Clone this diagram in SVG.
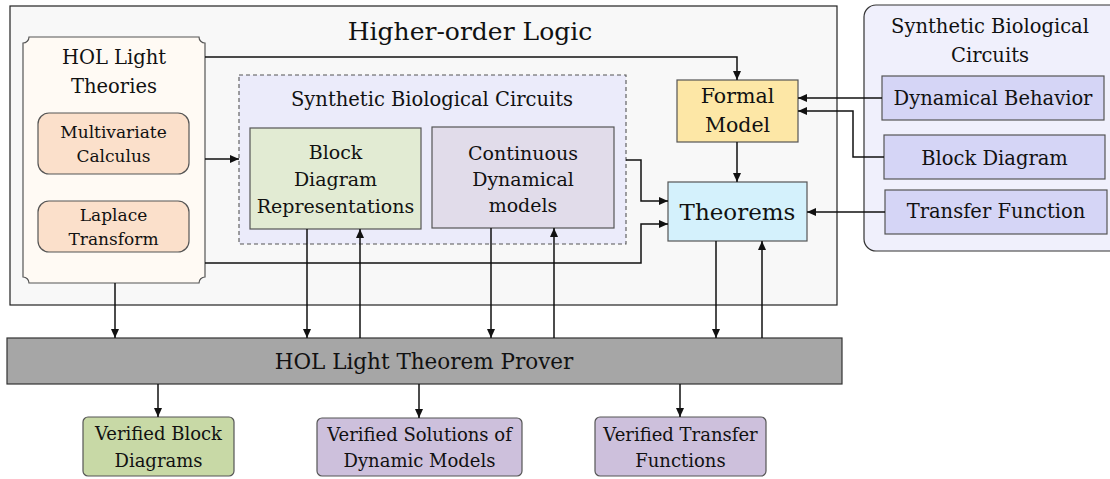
<svg xmlns="http://www.w3.org/2000/svg" width="1110" height="479" viewBox="0 0 1110 479">
<style>
text{font-family:"DejaVu Serif","Liberation Serif",serif;fill:#111;text-anchor:middle}
.box{stroke:#555;stroke-width:1.2}
.conn{fill:none;stroke:#111;stroke-width:1.5}
</style>
<defs>
<marker id="ah" markerUnits="userSpaceOnUse" markerWidth="10" markerHeight="8" refX="9" refY="4" orient="auto">
<path d="M0,0 L9,4 L0,8 Z" fill="#111"/>
</marker>
</defs>
<rect width="1110" height="479" fill="#fff"/>
<g id="hol-logic">
<rect x="10" y="6" width="827" height="299" fill="#f8f8f8" stroke="#222" stroke-width="1.2"/>
<text x="470" y="40" font-size="25">Higher-order Logic</text>
</g>
<g id="sbc-right">
<rect x="864" y="5" width="270" height="246" rx="12" fill="#f0f0fc" stroke="#333" stroke-width="1.2"/>
<text x="990" y="33" font-size="19.5">Synthetic Biological</text>
<text x="990" y="62" font-size="19.5">Circuits</text>
</g>
<g id="hol-theories">
<path d="M29,37 H199 A6,6 0 0 0 205,43 V277 A6,6 0 0 0 199,283 H29 A6,6 0 0 0 23,277 V43 A6,6 0 0 0 29,37 Z" fill="#fffaf4" class="box"/>
<text x="114" y="64" font-size="19.5">HOL Light</text>
<text x="114" y="93" font-size="19.5">Theories</text>
</g>
<g id="multivariate">
<rect x="38" y="113" width="151" height="61" rx="11" fill="#fbe0cb" class="box"/>
<text x="113.5" y="138" font-size="17">Multivariate</text>
<text x="113.5" y="162" font-size="17">Calculus</text>
</g>
<g id="laplace">
<rect x="38" y="201" width="151" height="51" rx="11" fill="#fbe0cb" class="box"/>
<text x="113.5" y="221" font-size="17">Laplace</text>
<text x="113.5" y="245" font-size="17">Transform</text>
</g>
<g id="sbc-inner">
<rect x="239" y="75" width="387" height="169" fill="#ebebfa" stroke="#555" stroke-width="1.1" stroke-dasharray="4,3"/>
<text x="432" y="106" font-size="19.5">Synthetic Biological Circuits</text>
</g>
<g id="block-rep">
<rect x="250" y="128" width="171" height="101" fill="#e2ebd3" class="box"/>
<text x="335.5" y="159" font-size="19">Block</text>
<text x="335.5" y="186" font-size="19">Diagram</text>
<text x="335.5" y="213" font-size="19">Representations</text>
</g>
<g id="continuous">
<rect x="432" y="127" width="182" height="101" fill="#e1dcea" class="box"/>
<text x="523" y="160" font-size="19">Continuous</text>
<text x="523" y="186" font-size="19">Dynamical</text>
<text x="523" y="212" font-size="19">models</text>
</g>
<g id="formal-model">
<rect x="677" y="80" width="121" height="62" fill="#fde7a6" class="box"/>
<text x="737.5" y="103" font-size="20.5">Formal</text>
<text x="737.5" y="132" font-size="20.5">Model</text>
</g>
<g id="theorems">
<rect x="668" y="182" width="139" height="59" fill="#d4f1fc" class="box"/>
<text x="737.5" y="220" font-size="23">Theorems</text>
</g>
<g id="dyn-behavior">
<rect x="882" y="76" width="222" height="44" fill="#d5d5f6" class="box"/>
<text x="993" y="105" font-size="19.5">Dynamical Behavior</text>
</g>
<g id="block-diagram">
<rect x="884" y="135" width="221" height="44" fill="#d5d5f6" class="box"/>
<text x="994.5" y="165" font-size="19.5">Block Diagram</text>
</g>
<g id="transfer-function">
<rect x="885" y="190" width="222" height="44" fill="#d5d5f6" class="box"/>
<text x="996" y="218" font-size="19.5">Transfer Function</text>
</g>
<g id="prover">
<rect x="7" y="338" width="835" height="46" fill="#a6a6a6" stroke="#333" stroke-width="1.2"/>
<text x="424" y="369" font-size="21.5">HOL Light Theorem Prover</text>
</g>
<g id="verified-block">
<rect x="83" y="417" width="151" height="59" rx="5" fill="#c8d9a6" class="box"/>
<text x="158.5" y="440" font-size="18">Verified Block</text>
<text x="158.5" y="467" font-size="18">Diagrams</text>
</g>
<g id="verified-solutions">
<rect x="317" y="418" width="205" height="58" rx="5" fill="#cdc0dc" class="box"/>
<text x="419.5" y="441" font-size="18">Verified Solutions of</text>
<text x="419.5" y="467" font-size="18">Dynamic Models</text>
</g>
<g id="verified-transfer">
<rect x="595" y="417" width="171" height="59" rx="5" fill="#cdc0dc" class="box"/>
<text x="680.5" y="441" font-size="18">Verified Transfer</text>
<text x="680.5" y="467" font-size="18">Functions</text>
</g>
<g id="connectors" class="conn" marker-end="url(#ah)">
<path class="conn" marker-end="url(#ah)" d="M205,57 H737 V80"/>
<path class="conn" marker-end="url(#ah)" d="M205,159 H239"/>
<path class="conn" marker-end="url(#ah)" d="M205,263 H641 V224 H668"/>
<path class="conn" marker-end="url(#ah)" d="M626,160 H641 V201 H668"/>
<path class="conn" marker-end="url(#ah)" d="M737,142 V182"/>
<path class="conn" marker-end="url(#ah)" d="M882,98 H798"/>
<path class="conn" marker-end="url(#ah)" d="M884,157 H853 V111 H798"/>
<path class="conn" marker-end="url(#ah)" d="M885,212 H807"/>
<path class="conn" marker-end="url(#ah)" d="M115,283 V338"/>
<path class="conn" marker-end="url(#ah)" d="M307,229 V338"/>
<path class="conn" marker-end="url(#ah)" d="M360,338 V229"/>
<path class="conn" marker-end="url(#ah)" d="M491,228 V338"/>
<path class="conn" marker-end="url(#ah)" d="M554,338 V228"/>
<path class="conn" marker-end="url(#ah)" d="M716,241 V338"/>
<path class="conn" marker-end="url(#ah)" d="M762,338 V241"/>
<path class="conn" marker-end="url(#ah)" d="M158,384 V417"/>
<path class="conn" marker-end="url(#ah)" d="M419,384 V418"/>
<path class="conn" marker-end="url(#ah)" d="M680,384 V417"/>
</g>
</svg>
